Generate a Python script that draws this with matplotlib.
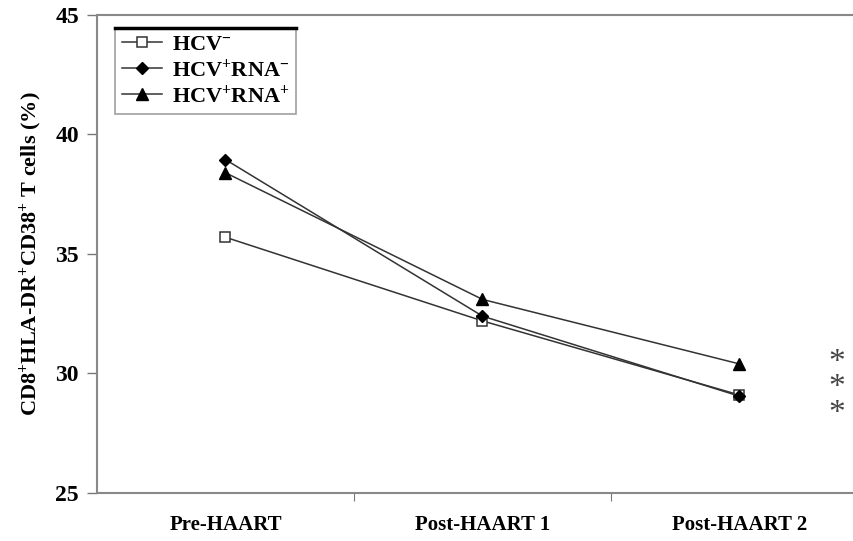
import matplotlib
matplotlib.use('Agg')
import matplotlib.pyplot as plt
from matplotlib.lines import Line2D

plt.rcParams['font.family'] = ['Liberation Serif', 'DejaVu Serif']
plt.rcParams['font.weight'] = 'bold'
plt.rcParams['mathtext.fontset'] = 'custom'
plt.rcParams['mathtext.rm'] = 'Liberation Serif:bold'
plt.rcParams['mathtext.it'] = 'Liberation Serif:bold'
plt.rcParams['mathtext.bf'] = 'Liberation Serif:bold'

categories = ['Pre-HAART', 'Post-HAART 1', 'Post-HAART 2']
hcv_neg = [35.7, 32.2, 29.1]
hcv_pos_rna_neg = [38.95, 32.4, 29.05]
hcv_pos_rna_pos = [38.4, 33.1, 30.4]
labels = [r'HCV$^{-}$', r'HCV$^{+}$RNA$^{-}$', r'HCV$^{+}$RNA$^{+}$']
yticks = [25, 30, 35, 40, 45]

W, H = 854, 541
fig = plt.figure(figsize=(W / 100, H / 100), dpi=100)
ax = fig.add_axes([97 / W, (H - 493) / H, 771 / W, 478 / H])

x = range(len(categories))
lc = '#333333'
ax.plot(x, hcv_neg, color=lc, lw=1.1, marker='s', ms=7, mfc='white', mec='#333333', mew=1.1, label=labels[0], zorder=3)
ax.plot(x, hcv_pos_rna_neg, color=lc, lw=1.1, marker='D', ms=6, mfc='black', mec='black', label=labels[1], zorder=4)
ax.plot(x, hcv_pos_rna_pos, color=lc, lw=1.1, marker='^', ms=8, mfc='black', mec='black', label=labels[2], zorder=4)

ax.set_xlim(-0.5, 2.5)
ax.set_ylim(25, 45)
ax.set_yticks(yticks)
ax.set_xticks([0.5, 1.5])
ax.set_xticklabels([])
ax.set_xticks(list(x), minor=True)
ax.set_xticklabels(categories, minor=True, fontsize=15, fontweight='bold')
ax.tick_params(axis='x', which='minor', length=0, pad=16)
ax.tick_params(axis='x', which='major', direction='out', length=6, color='#777777')
ax.tick_params(axis='y', direction='out', length=7, width=1, color='#777777', labelsize=17, pad=6)
for s in ax.spines.values():
    s.set_color('#888888')
    s.set_linewidth(1.5)

ax.set_ylabel(r'CD8$^{+}$HLA-DR$^{+}$CD38$^{+}$ T cells (%)', fontsize=16, fontweight='bold', labelpad=8)

leg = ax.legend(loc='upper left', bbox_to_anchor=(18 / 771, (493 - 28) / 478), borderaxespad=0,
                fontsize=16, frameon=True, fancybox=False, edgecolor='#888888', handlelength=1.8,
                handletextpad=0.45, labelspacing=0.15, borderpad=0.3)
leg.get_frame().set_linewidth(1.2)

# thick black line along the top of the legend box
fig.canvas.draw()
bb = leg.get_window_extent().transformed(fig.transFigure.inverted())
fig.add_artist(Line2D([bb.x0, bb.x1], [bb.y1, bb.y1], transform=fig.transFigure, color='black', lw=2.5))

fig.text(837 / W, (H - 388) / H, '*\n*\n*', ha='center', va='center', fontsize=24,
         color='#444444', fontweight='normal', linespacing=0.78)

fig.savefig('out.png', dpi=100)
